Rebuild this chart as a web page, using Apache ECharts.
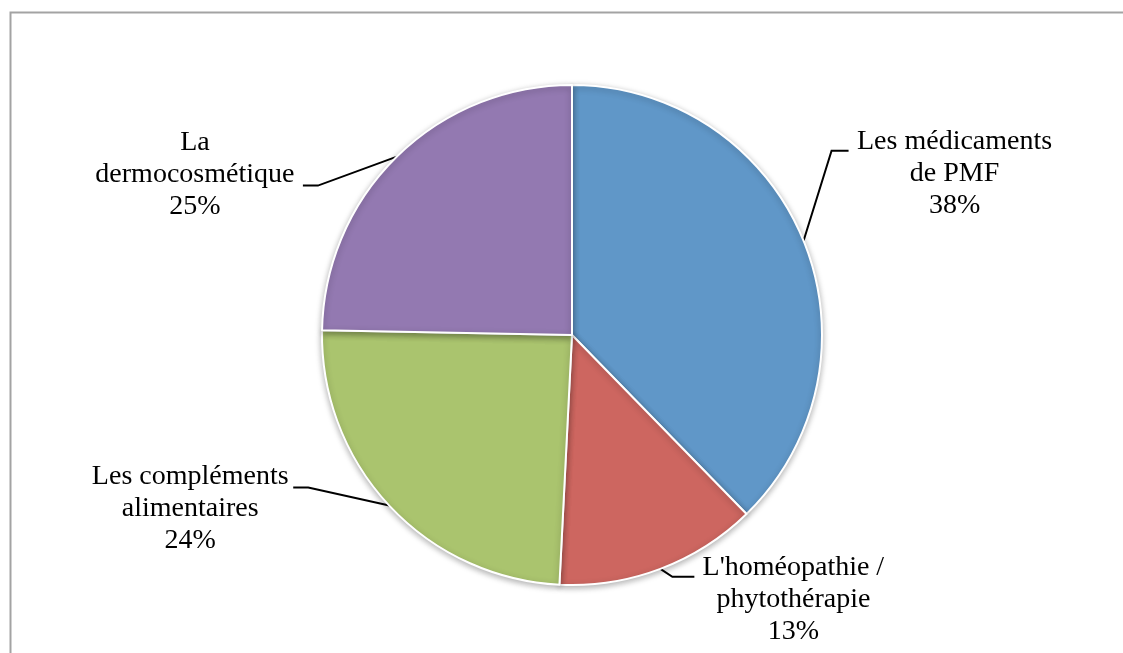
<!DOCTYPE html>
<html>
<head>
<meta charset="utf-8">
<title>Répartition</title>
<script src="https://cdn.jsdelivr.net/npm/echarts@6/dist/echarts.min.js"></script>
<style>
  html, body { margin: 0; padding: 0; background: #fff; }
  #chart { width: 1123px; height: 653px; }
</style>
</head>
<body>
<div id="chart"></div>
<script>
// categories (clockwise from 12 o'clock)
const categories = [
  'Les médicaments de PMF',
  "L'homéopathie / phytothérapie",
  'Les compléments alimentaires',
  'La dermocosmétique'
];
// how each category is broken over lines in its label
const labelTexts = [
  'Les médicaments\nde PMF',
  "L'homéopathie /\nphytothérapie",
  'Les compléments\nalimentaires',
  'La\ndermocosmétique'
];
// shares (percent)
const shares = [37.7, 13.1, 24.5, 24.7];
const colors = ['#6097c8', '#cd6660', '#aac46e', '#9379b1'];

// label placement relative to the slice's edge point:
// text = top-centre of the text block, elbow / end = leader line points
const placement = [
  { text: [151, -115], elbow: [28, -90], end: [45, -90] },
  { text: [133, -17], elbow: [12, 8], end: [34, 8] },
  { text: [-199, -45], elbow: [-81, -18], end: [-96, -18] },
  { text: [-202, -30], elbow: [-79, 29], end: [-94, 29] }
];

const chart = echarts.init(document.getElementById('chart'));

chart.setOption({
  animation: false,
  graphic: [{
    type: 'rect',
    left: 8,
    top: 10,
    silent: true,
    z: -10,
    shape: { width: 1400, height: 900 },
    style: { fill: 'none', stroke: '#a3a3a3', lineWidth: 2 }
  }],
  series: [{
    type: 'pie',
    center: [572, 335],
    radius: 250,
    startAngle: 90,
    clockwise: true,
    avoidLabelOverlap: false,
    percentPrecision: 0,
    emphasis: { disabled: true },
    itemStyle: {
      borderColor: '#ffffff',
      borderWidth: 2,
      shadowBlur: 6,
      shadowOffsetY: 2,
      shadowColor: 'rgba(0,0,0,0.3)'
    },
    label: {
      show: true,
      position: 'outside',
      fontFamily: '"Liberation Serif", "DejaVu Serif", serif',
      fontSize: 28,
      lineHeight: 32,
      color: '#000',
      formatter: (p) => labelTexts[p.dataIndex] + '\n' + p.percent + '%'
    },
    labelLine: {
      show: true,
      length: 20,
      length2: 10,
      lineStyle: { color: '#000', width: 2, shadowBlur: 0, shadowColor: 'transparent' }
    },
    labelLayout: (p) => {
      const pl = placement[p.dataIndex];
      const e = p.labelLinePoints[0];
      return {
        x: e[0] + pl.text[0],
        y: e[1] + pl.text[1],
        align: 'center',
        verticalAlign: 'top',
        labelLinePoints: [
          [e[0], e[1]],
          [e[0] + pl.elbow[0], e[1] + pl.elbow[1]],
          [e[0] + pl.end[0], e[1] + pl.end[1]]
        ]
      };
    },
    data: categories.map((name, i) => ({
      name: name,
      value: shares[i],
      itemStyle: { color: colors[i] }
    }))
  }]
});
</script>
</body>
</html>
